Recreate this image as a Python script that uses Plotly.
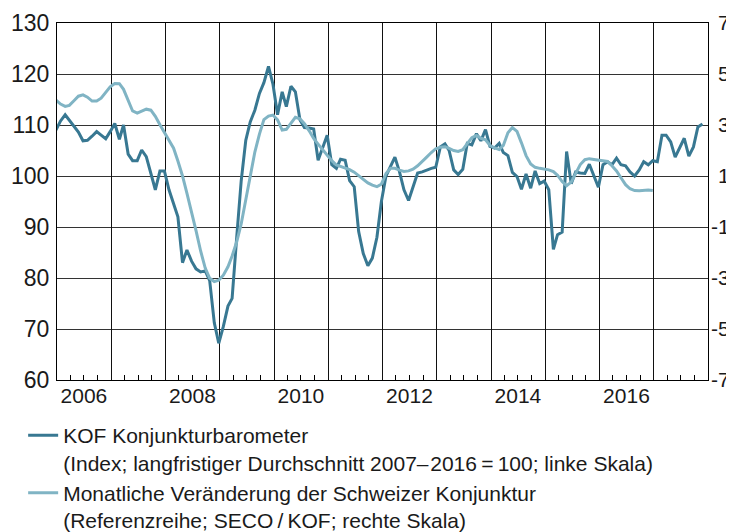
import pandas as pd
import plotly.graph_objects as go

# KOF Konjunkturbarometer, monthly, Dec 2005 .. Nov 2017 (left scale)
kof_start = "2005-12"
kof_values = [
    109.0,
    110.8, 112.0, 111.0, 109.9, 108.6, 106.9, 107.0, 107.8, 108.7, 108.0, 107.3, 108.7,
    110.3, 107.2, 110.0, 104.3, 103.0, 103.0, 105.1, 103.8, 100.2, 97.3, 101.0, 101.0,
    97.3, 94.6, 92.0, 83.0, 85.5, 83.3, 81.8, 81.2, 81.4, 79.5, 71.2, 67.2,
    70.5, 74.5, 76.0, 88.0, 99.0, 107.0, 110.6, 112.9, 116.2, 118.3, 121.5, 118.0,
    112.0, 116.5, 113.6, 117.6, 116.5, 111.0, 109.5, 109.4, 109.2, 103.1, 105.5, 108.0,
    102.2, 101.5, 103.3, 103.1, 99.1, 97.9, 89.1, 84.8, 82.4, 83.9, 88.0, 95.0,
    100.0, 102.0, 103.7, 100.8, 97.3, 95.2, 98.0, 100.6, 100.8, 101.2, 101.5, 101.7,
    105.7, 106.3, 105.0, 101.2, 100.3, 101.3, 106.4, 106.1, 108.3, 106.9, 109.1, 105.8,
    105.5, 106.4, 104.6, 104.0, 100.7, 99.9, 97.4, 100.4, 97.6, 101.0, 98.5, 99.0,
    97.3, 85.6, 88.5, 89.0, 104.8, 98.5, 100.8, 100.6, 100.5, 102.3, 100.0, 97.8,
    102.2, 102.8, 102.2, 103.5, 102.2, 102.0, 100.8, 100.0, 101.2, 102.8, 102.2, 103.0,
    102.8, 108.0, 108.0, 106.7, 103.7, 105.5, 107.4, 103.9, 105.7, 109.6, 110.2,
]

# Reference series (SECO / KOF), monthly, Dec 2005 .. Dec 2016 (right scale)
ref_start = "2005-12"
ref_values = [
    3.98,
    3.82, 3.73, 3.77, 3.95, 4.13, 4.18, 4.09, 3.94, 3.94, 4.05, 4.28, 4.50,
    4.63, 4.62, 4.40, 3.97, 3.55, 3.47, 3.53, 3.62, 3.58, 3.34, 3.01, 2.72,
    2.43, 2.09, 1.59, 1.00, 0.32, -0.38, -1.14, -1.94, -2.61, -3.01, -3.14, -3.09,
    -2.89, -2.56, -2.14, -1.58, -0.88, 0.07, 1.01, 1.94, 2.64, 3.21, 3.35, 3.39,
    3.20, 2.80, 2.83, 3.08, 3.30, 3.24, 3.05, 2.78, 2.47, 2.25, 2.03, 1.78,
    1.60, 1.43, 1.37, 1.32, 1.25, 1.15, 1.01, 0.87, 0.73, 0.64, 0.58, 0.68,
    1.10, 1.30, 1.30, 1.23, 1.18, 1.20, 1.27, 1.40, 1.56, 1.74, 1.92, 2.07,
    2.13, 2.15, 2.08, 2.00, 1.96, 2.03, 2.27, 2.50, 2.59, 2.48, 2.42, 2.20,
    2.10, 2.04, 2.20, 2.70, 2.90, 2.75, 2.30, 1.80, 1.47, 1.34, 1.30, 1.28,
    1.24, 1.17, 1.03, 0.78, 0.62, 0.76, 1.10, 1.45, 1.64, 1.68, 1.65, 1.63,
    1.61, 1.57, 1.40, 1.20, 0.93, 0.66, 0.50, 0.43, 0.42, 0.43, 0.45, 0.43,
]

year_labels = ["2006", "2008", "2010", "2012", "2014", "2016"]
left_ticks = [60, 70, 80, 90, 100, 110, 120, 130]
right_ticks = [-7, -5, -3, -1, 1, 3, 5, 7]
right_labels = ["-7", "-5", "-3", "-1", "1", "3", "5", "7"]

kof_name = "KOF Konjunkturbarometer<br>(Index; langfristiger Durchschnitt 2007–\u200a2016\u2009=\u2009100; linke Skala)"
ref_name = "Monatliche Veränderung der Schweizer Konjunktur<br>(Referenzreihe; SECO\u2009/\u2009KOF; rechte Skala)"

DARK = "#387892"
LIGHT = "#80b4c4"

def month_dates(start, n):
    return pd.date_range(start=start, periods=n, freq="MS") + pd.Timedelta(days=24)

kof_x = month_dates(kof_start, len(kof_values))
ref_x = month_dates(ref_start, len(ref_values))
label_x = [f"{y}-07-01" for y in year_labels]
xr = ["2006-01-01", "2018-01-01"]
# right-align the right-hand labels: pad positive values by the width of a hyphen
right_text = [t if t.startswith("-") else "\u2004" + t for t in right_labels]

fig = go.Figure()
fig.add_trace(go.Scatter(x=kof_x, y=kof_values, mode="lines", name=kof_name,
                         line=dict(color=DARK, width=3), xaxis="x", yaxis="y"))
fig.add_trace(go.Scatter(x=ref_x, y=ref_values, mode="lines", name=ref_name,
                         line=dict(color=LIGHT, width=3), xaxis="x2", yaxis="y2"))

# the page body adds an 8 px margin, so the figure is 8 px smaller on each axis
fig.update_layout(
    width=726, height=524,
    margin=dict(l=49, r=26, t=15, b=152, autoexpand=False),
    paper_bgcolor="white", plot_bgcolor="white",
    font=dict(family="Liberation Sans, Arial, sans-serif", color="#1a1a1a"),
    xaxis=dict(type="date", range=xr, tickmode="array", tickvals=label_x, ticktext=year_labels,
               ticks="", showgrid=False, zeroline=False, showline=True, linecolor="black",
               linewidth=1.3, mirror=True, tickfont=dict(size=21), ticklabelstandoff=-3,
               automargin=False),
    xaxis2=dict(type="date", range=xr, overlaying="x", anchor="y", side="bottom",
                tick0="2006-01-01", dtick="M12", showticklabels=False, ticks="",
                showgrid=True, gridcolor="#111111", gridwidth=1.4, zeroline=False, showline=False,
                automargin=False,
                minor=dict(tick0="2006-01-01", dtick="M3", ticks="inside", ticklen=5,
                           tickwidth=1, tickcolor="black", showgrid=False)),
    yaxis=dict(range=[60, 130], tickmode="array", tickvals=left_ticks, ticks="",
               showgrid=True, gridcolor="#333333", gridwidth=1, zeroline=False,
               showline=True, linecolor="black", linewidth=1.3, mirror=True,
               tickfont=dict(size=23), ticklabelstandoff=2, automargin=False),
    yaxis2=dict(range=[-7, 7], tickmode="array", tickvals=right_ticks, ticktext=right_text,
                overlaying="y", side="right", anchor="x", ticks="", showgrid=False,
                zeroline=False, showline=False, tickfont=dict(size=21), ticklabelstandoff=2,
                automargin=False),
    legend=dict(x=-0.052, xanchor="left", y=-0.098, yanchor="top", orientation="v",
                font=dict(size=21, color="#1a1a1a"), valign="top",
                bgcolor="rgba(0,0,0,0)", traceorder="normal"),
    showlegend=True,
)

fig.write_html("out.html")
